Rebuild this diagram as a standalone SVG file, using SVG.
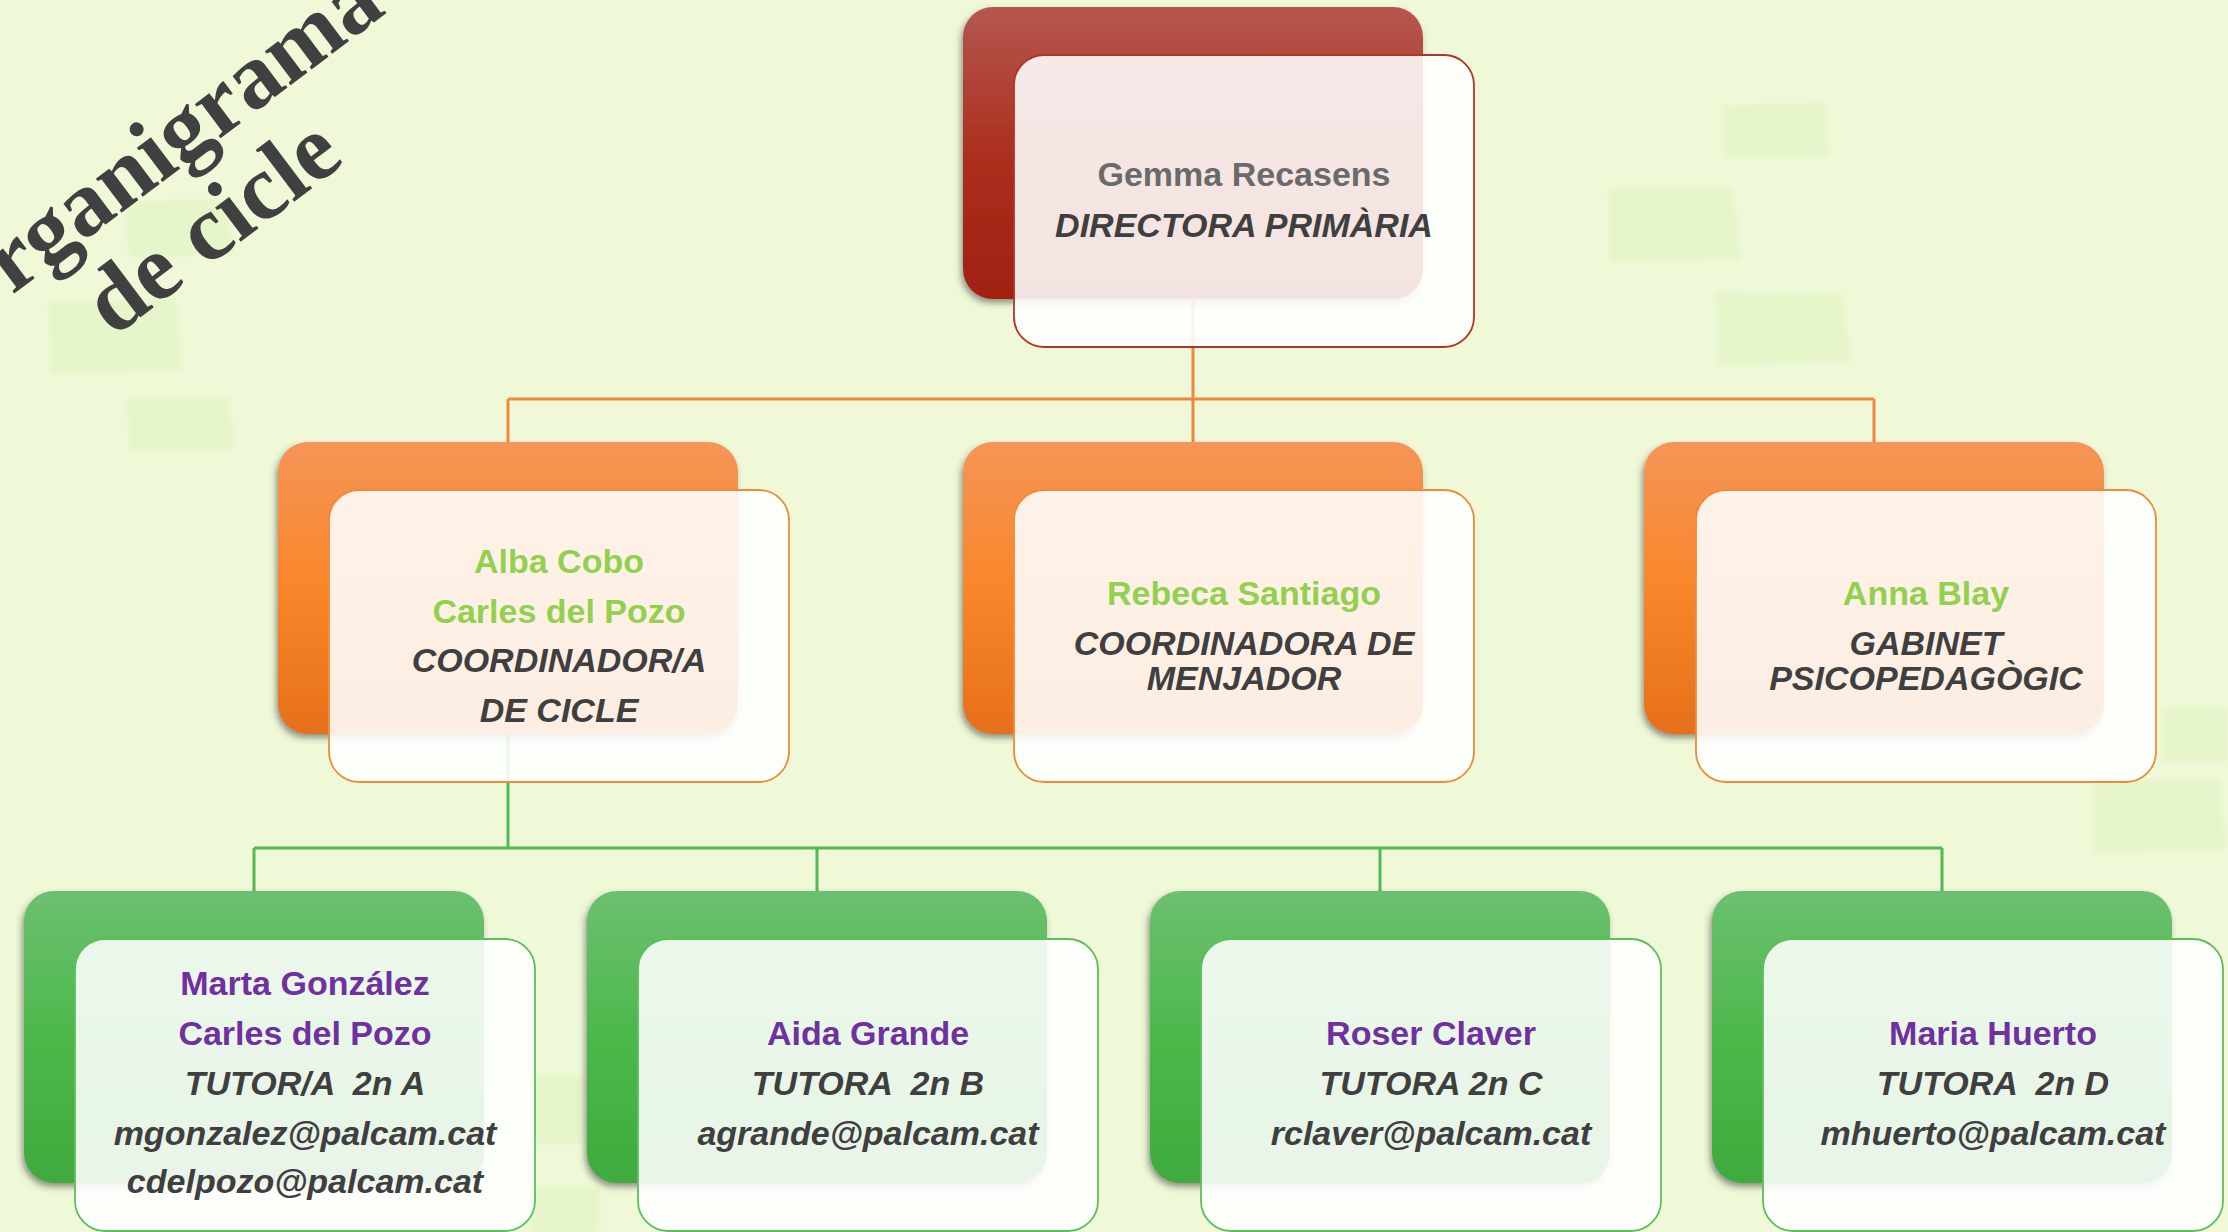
<svg xmlns="http://www.w3.org/2000/svg" width="2228" height="1232" viewBox="0 0 2228 1232">
<defs>
<linearGradient id="gRed" x1="0" y1="0" x2="0" y2="1"><stop offset="0" stop-color="#B5574F"/><stop offset="0.5" stop-color="#AC2F1F"/><stop offset="1" stop-color="#A02010"/></linearGradient>
<linearGradient id="gOr" x1="0" y1="0" x2="0" y2="1"><stop offset="0" stop-color="#F59558"/><stop offset="0.5" stop-color="#F9862A"/><stop offset="1" stop-color="#E6701A"/></linearGradient>
<linearGradient id="gGr" x1="0" y1="0" x2="0" y2="1"><stop offset="0" stop-color="#6CC070"/><stop offset="0.5" stop-color="#4CB84B"/><stop offset="1" stop-color="#3FAB3E"/></linearGradient>
<filter id="sh" x="-10%" y="-10%" width="120%" height="125%"><feDropShadow dx="-2" dy="4" stdDeviation="3" flood-color="#333" flood-opacity="0.5"/></filter>
<filter id="bl" x="-20%" y="-20%" width="140%" height="140%"><feGaussianBlur stdDeviation="2"/></filter>
<style>
.bg{fill:#E7F5CB;filter:url(#bl)}
.back{filter:url(#sh)}
.front{fill:#FFFFFF;fill-opacity:0.88;stroke-width:1.8}
.fr{stroke:#B03526}.fo{stroke:#F08A3A}.fg{stroke:#5CBF5C}
text{font-family:"Liberation Sans",Arial,sans-serif;font-size:34px;font-weight:bold;text-anchor:middle;white-space:pre}
.role{font-style:italic;fill:#3F3F3F}
.grey{fill:#6A6A6A}.green{fill:#92D050}.purple{fill:#7030A0}
.title{font-family:"Liberation Serif","Times New Roman",serif;font-size:93px;fill:#404040}
.co{fill:none;stroke:#F0883A;stroke-width:3}
.cg{fill:none;stroke:#55B855;stroke-width:3}
</style>
</defs>
<rect width="2228" height="1232" fill="#EFF9D8"/>
<g id="background">
<polygon class="bg" points="127,201 228,199 233,255 128,257"/>
<polygon class="bg" points="48,302 176,299 183,370 50,374"/>
<polygon class="bg" points="127,398 230,397 234,450 129,452"/>
<polygon class="bg" points="1723,105 1825,103 1829,157 1724,159"/>
<polygon class="bg" points="1608,188 1733,187 1741,259 1609,262"/>
<polygon class="bg" points="1716,292 1843,293 1851,362 1717,365"/>
<polygon class="bg" points="2161,708 2228,708 2228,762 2162,762"/>
<polygon class="bg" points="2092,779 2220,780 2226,850 2094,853"/>
<polygon class="bg" points="530,1076 600,1076 600,1144 530,1144"/>
<polygon class="bg" points="530,1188 600,1188 600,1232 530,1232"/>
</g>
<g id="title" transform="rotate(-37)">
<text class="title" x="31" y="243">Organigrama</text>
<text class="title" x="33" y="338">de cicle</text>
</g>
<g id="connectors">
<path class="co" d="M1193,300 V399 M508,399 H1874 M508,399 V442 M1193,399 V442 M1874,399 V442"/>
<path class="cg" d="M508,735 V848 M254,848 H1942 M254,848 V891 M817,848 V891 M1380,848 V891 M1942,848 V891"/>
</g>
<g id="node-directora">
<rect class="back" x="963" y="7" width="460" height="292" rx="30" fill="url(#gRed)"/>
<rect class="front fr" x="1014" y="55" width="460" height="292" rx="30"/>
<text class="grey" x="1244" y="186">Gemma Recasens</text>
<text class="role" x="1244" y="237">DIRECTORA PRIMÀRIA</text>
</g>
<g id="node-coord-cicle">
<rect class="back" x="278" y="442" width="460" height="292" rx="30" fill="url(#gOr)"/>
<rect class="front fo" x="329" y="490" width="460" height="292" rx="30"/>
<text class="green" x="559" y="573">Alba Cobo</text>
<text class="green" x="559" y="623">Carles del Pozo</text>
<text class="role" x="559" y="672">COORDINADOR/A</text>
<text class="role" x="559" y="722">DE CICLE</text>
</g>
<g id="node-menjador">
<rect class="back" x="963" y="442" width="460" height="292" rx="30" fill="url(#gOr)"/>
<rect class="front fo" x="1014" y="490" width="460" height="292" rx="30"/>
<text class="green" x="1244" y="605">Rebeca Santiago</text>
<text class="role" x="1244" y="655">COORDINADORA DE</text>
<text class="role" x="1244" y="690">MENJADOR</text>
</g>
<g id="node-gabinet">
<rect class="back" x="1644" y="442" width="460" height="292" rx="30" fill="url(#gOr)"/>
<rect class="front fo" x="1696" y="490" width="460" height="292" rx="30"/>
<text class="green" x="1926" y="605">Anna Blay</text>
<text class="role" x="1926" y="655">GABINET</text>
<text class="role" x="1926" y="690">PSICOPEDAGÒGIC</text>
</g>
<g id="node-2nA">
<rect class="back" x="24" y="891" width="460" height="292" rx="30" fill="url(#gGr)"/>
<rect class="front fg" x="75" y="939" width="460" height="292" rx="30"/>
<text class="purple" x="305" y="995">Marta González</text>
<text class="purple" x="305" y="1045">Carles del Pozo</text>
<text class="role" x="305" y="1095">TUTOR/A  2n A</text>
<text class="role" x="305" y="1145">mgonzalez@palcam.cat</text>
<text class="role" x="305" y="1193">cdelpozo@palcam.cat</text>
</g>
<g id="node-2nB">
<rect class="back" x="587" y="891" width="460" height="292" rx="30" fill="url(#gGr)"/>
<rect class="front fg" x="638" y="939" width="460" height="292" rx="30"/>
<text class="purple" x="868" y="1045">Aida Grande</text>
<text class="role" x="868" y="1095">TUTORA  2n B</text>
<text class="role" x="868" y="1145">agrande@palcam.cat</text>
</g>
<g id="node-2nC">
<rect class="back" x="1150" y="891" width="460" height="292" rx="30" fill="url(#gGr)"/>
<rect class="front fg" x="1201" y="939" width="460" height="292" rx="30"/>
<text class="purple" x="1431" y="1045">Roser Claver</text>
<text class="role" x="1431" y="1095">TUTORA 2n C</text>
<text class="role" x="1431" y="1145">rclaver@palcam.cat</text>
</g>
<g id="node-2nD">
<rect class="back" x="1712" y="891" width="460" height="292" rx="30" fill="url(#gGr)"/>
<rect class="front fg" x="1763" y="939" width="460" height="292" rx="30"/>
<text class="purple" x="1993" y="1045">Maria Huerto</text>
<text class="role" x="1993" y="1095">TUTORA  2n D</text>
<text class="role" x="1993" y="1145">mhuerto@palcam.cat</text>
</g>
</svg>
